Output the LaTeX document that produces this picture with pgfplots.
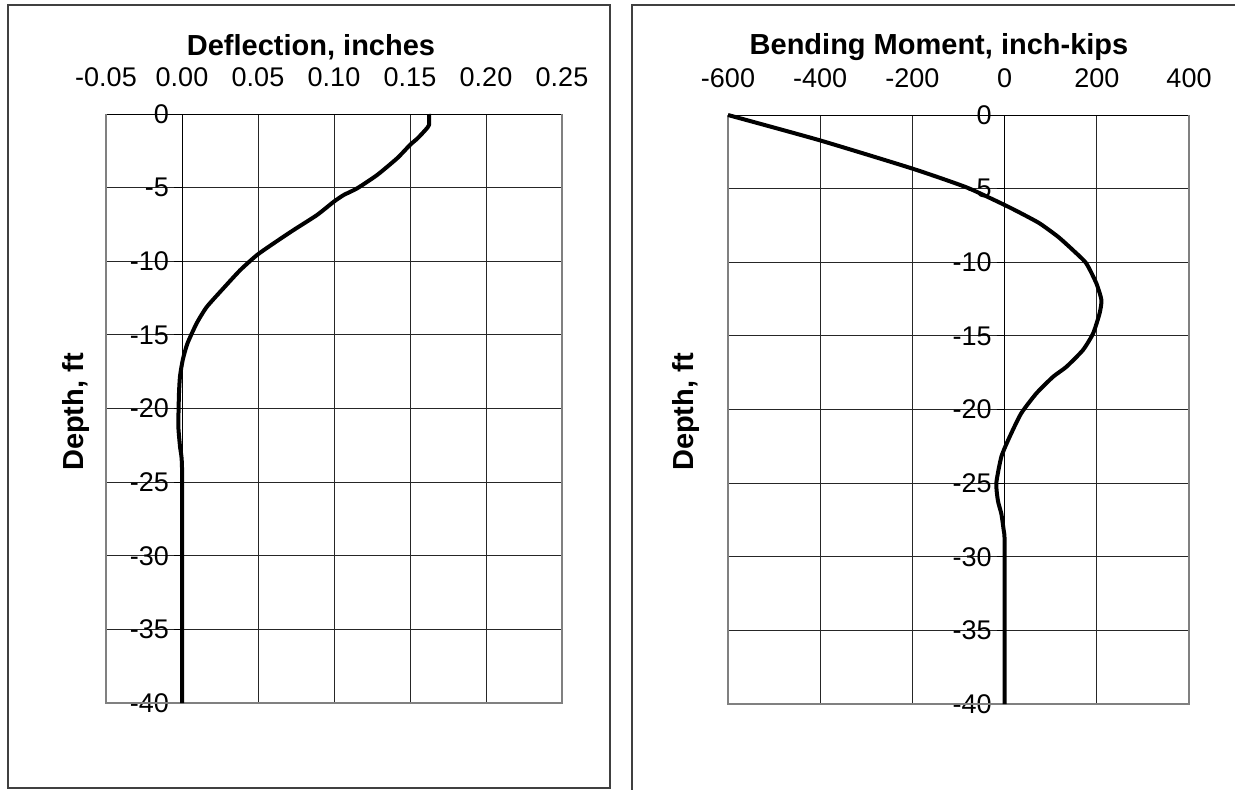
\documentclass[border=0pt]{standalone}
\usepackage{fontspec}
\setmainfont{Liberation Sans}
\usepackage{pgfplots}
\pgfplotsset{compat=1.18}
\begin{document}
\begin{tikzpicture}[x=1pt,y=1pt]
\useasboundingbox[fill=white] (0,0) rectangle (617.5,394.5);
% panel borders
\draw[black!75, line width=0.8pt] (4,0.5) rectangle (305,392);
\draw[black!75, line width=0.8pt] (316,-5) -- (316,392) -- (625,392);
\pgfplotsset{
  panel/.style={
    anchor=south west, scale only axis,
    ymin=-40, ymax=0,
    axis x line*=top, axis y line*=middle,
    hide obscured x ticks=false, hide obscured y ticks=false,
    ytick={-40,-35,...,0},
    yticklabels={-40,-35,-30,-25,-20,-15,-10,-5,0},
    grid=major,
    major grid style={black!85, line width=0.5pt},
    axis line style={black, line width=0.5pt, -},
    tick label style={font=\fontsize{13.5}{16}\selectfont, text=black},
    xtick style={draw=none},
    ytick style={black, line width=0.5pt},
    ytick align=outside, major tick length=4pt,
    yticklabel style={xshift=1pt},
    xticklabel style={yshift=10pt},
    clip=false,
  }
}
\begin{axis}[panel, at={(53pt,43pt)}, width=228pt, height=294.5pt,
  xmin=-0.05, xmax=0.25,
  xtick={-0.05,0,0.05,0.1,0.15,0.2,0.25},
  xticklabels={-0.05,0.00,0.05,0.10,0.15,0.20,0.25}]
\draw[gray, line width=0.8pt] (rel axis cs:0,1) -- (rel axis cs:0,0) -- (rel axis cs:1,0) -- (rel axis cs:1,1);
\addplot[black, line width=2pt, line join=round, smooth, tension=0.35] coordinates {
(0.1625,0) (0.1625,-0.75) (0.160,-1.1) (0.155,-1.65) (0.150,-2.1)
(0.1416,-3.0) (0.1284,-4.14) (0.1152,-5.05) (0.1064,-5.5) (0.0998,-5.96)
(0.0888,-6.86) (0.0734,-7.88) (0.0602,-8.79) (0.0493,-9.58) (0.0383,-10.6)
(0.0272,-11.84) (0.0163,-13.1) (0.0097,-14.2) (0.0035,-15.6) (0.0005,-16.7)
(-0.0013,-17.8) (-0.002,-19.0) (-0.0024,-21.2) (-0.0013,-22.6) (0,-24) (0,-32) (0,-40)};
\end{axis}
\begin{axis}[panel, at={(364pt,42.5pt)}, width=230.5pt, height=294.5pt,
  xmin=-600, xmax=400,
  xtick={-600,-400,-200,0,200,400},
  xticklabels={-600,-400,-200,0,200,400}]
\draw[gray, line width=0.8pt] (rel axis cs:0,1) -- (rel axis cs:0,0) -- (rel axis cs:1,0) -- (rel axis cs:1,1);
\addplot[black, line width=2pt, line join=round, smooth, tension=0.35] coordinates {
(-600,0) (-403,-1.7) (-202,-3.62) (-83,-4.91) (0,-6.11) (36,-6.68) (76,-7.36)
(116,-8.27) (148,-9.17) (177,-10.07) (199,-11.43) (210,-12.57) (206,-13.47)
(192,-14.83) (170,-15.96) (134,-17.1) (105,-17.78) (69,-18.9) (36,-20.26)
(11,-21.85) (-7,-23.2) (-18,-25.0) (-14.5,-26.2) (-7,-27.1) (-2,-28.2) (0,-29) (0,-35) (0,-40)};
\end{axis}
% titles and axis labels
\node[font=\bfseries\fontsize{14.5}{17}\selectfont] at (155.5,371) {Deflection, inches};
\node[font=\bfseries\fontsize{14.5}{17}\selectfont] at (469.5,371) {Bending Moment, inch-kips};
\node[font=\bfseries\fontsize{14.5}{17}\selectfont, rotate=90] at (38,188.5) {Depth, ft};
\node[font=\bfseries\fontsize{14.5}{17}\selectfont, rotate=90] at (343,188.5) {Depth, ft};
\end{tikzpicture}
\end{document}
